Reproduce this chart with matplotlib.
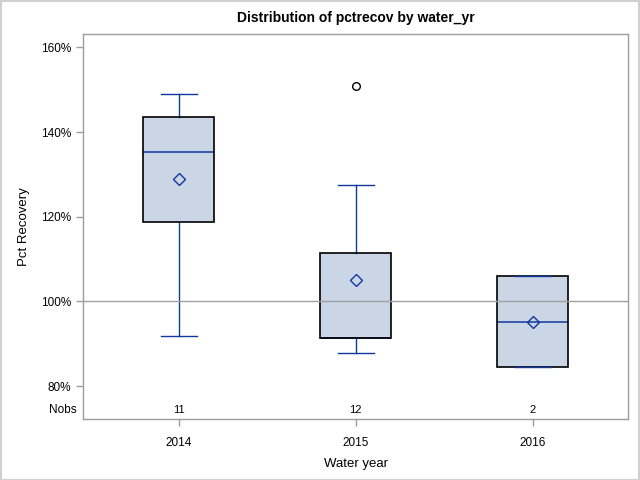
import matplotlib
matplotlib.use('Agg')
import matplotlib.pyplot as plt
from matplotlib.patches import Rectangle, PathPatch
from matplotlib.ticker import FuncFormatter

plt.rcParams['font.family'] = ['Liberation Sans', 'DejaVu Sans']

# Donnees (pourcentages)
YEARS = ['2014', '2015', '2016']
Q1 = [118.7, 91.3, 84.5]
MEDIAN = [135.3, 91.3, 95.1]
Q3 = [143.5, 111.4, 106.0]
WHISLO = [91.9, 87.8, 84.5]
WHISHI = [148.9, 127.4, 106.0]
MEANS = [128.85, 105.0, 95.1]
OUTLIERS = [[], [150.9], []]
NOBS = [11, 12, 2]

BLUE = '#11399c'
FILL = '#cad5e6'
FRAME = '#9a9ea2'

fig = plt.figure(figsize=(6.4, 4.8), dpi=100)
fig.patches.append(Rectangle((0.001, 0.001), 0.997, 0.996, transform=fig.transFigure,
                             fill=False, edgecolor='#d0d0d0', linewidth=1.5))
ax = fig.add_axes([0.130, 0.1265, 0.852, 0.802])

stats = []
for i, yr in enumerate(YEARS):
    stats.append(dict(label=yr, q1=Q1[i], med=MEDIAN[i], q3=Q3[i],
                      whislo=WHISLO[i], whishi=WHISHI[i], mean=MEANS[i],
                      fliers=OUTLIERS[i]))

pos = list(range(len(YEARS)))
bp = ax.bxp(stats, positions=pos, widths=0.40, patch_artist=True, showmeans=True,
            boxprops=dict(facecolor=FILL, edgecolor='none', linewidth=1.2, zorder=2),
            medianprops=dict(color=BLUE, linewidth=1.1, zorder=3),
            whiskerprops=dict(color=BLUE, linewidth=1.0, zorder=2),
            capprops=dict(color=BLUE, linewidth=1.0, zorder=4),
            capwidths=0.20,
            meanprops=dict(marker='D', markerfacecolor='none', markeredgecolor=BLUE,
                           markersize=6.5, markeredgewidth=1.0, zorder=4),
            flierprops=dict(marker='o', markerfacecolor='none', markeredgecolor='black',
                            markersize=5.5, markeredgewidth=1.0))

# contour noir des boites par-dessus la mediane
for b in bp['boxes']:
    ax.add_patch(PathPatch(b.get_path(), fill=False, edgecolor='black',
                           linewidth=1.2, zorder=3.5))

# ligne de reference a 100%
ax.axhline(100, color='#a0a0a0', linewidth=1.0, zorder=5)

# Nobs en bas du graphique
for p, n in zip(pos, NOBS):
    ax.text(p, 74.3, str(n), ha='center', va='center', fontsize=8)
ax.text(-0.012, 74.3, 'Nobs', transform=ax.get_yaxis_transform(),
        ha='right', va='center', fontsize=8.5)

ax.set_xlim(-0.54, 2.54)
ax.set_ylim(72.15, 163.1)
ax.set_yticks([80, 100, 120, 140, 160])
ax.yaxis.set_major_formatter(FuncFormatter(lambda v, _: f'{v:.0f}%'))
ax.set_xticks(pos)
ax.set_xticklabels(YEARS)
ax.tick_params(axis='both', colors=FRAME, labelcolor='black', labelsize=8.5,
               length=5, width=1.0)
ax.tick_params(axis='x', pad=8)
for sp in ax.spines.values():
    sp.set_color(FRAME)
    sp.set_linewidth(1.0)

ax.set_xlabel('Water year', fontsize=9.5, labelpad=6)
ax.set_ylabel('Pct Recovery', fontsize=9.5, labelpad=8)
ax.set_title('Distribution of pctrecov by water_yr', fontsize=10, fontweight='bold', pad=9)

fig.savefig('out.png', dpi=100)
